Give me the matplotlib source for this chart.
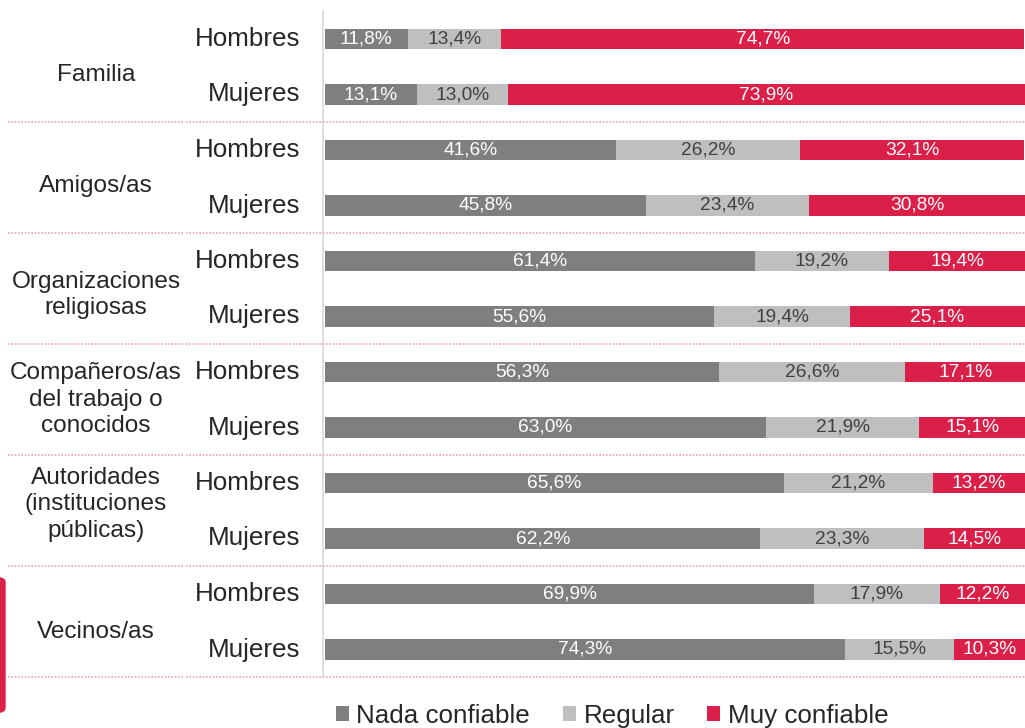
import matplotlib
matplotlib.use("Agg")
import matplotlib.pyplot as plt
from matplotlib.patches import Patch, FancyBboxPatch
from matplotlib.lines import Line2D
import matplotlib.transforms as mtransforms

plt.rcParams['font.family'] = ['Liberation Sans', 'DejaVu Sans']

groups = ["Familia", "Amigos/as", "Organizaciones\nreligiosas",
          "Compañeros/as\ndel trabajo o\nconocidos",
          "Autoridades\n(instituciones\npúblicas)", "Vecinos/as"]
sexes = ["Hombres", "Mujeres"]
series_names = ["Nada confiable", "Regular", "Muy confiable"]
nada = [11.8, 13.1, 41.6, 45.8, 61.4, 55.6, 56.3, 63.0, 65.6, 62.2, 69.9, 74.3]
regular = [13.4, 13.0, 26.2, 23.4, 19.2, 19.4, 26.6, 21.9, 21.2, 23.3, 17.9, 15.5]
muy = [74.7, 73.9, 32.1, 30.8, 19.4, 25.1, 17.1, 15.1, 13.2, 14.5, 12.2, 10.3]

colors = ["#7f7f7f", "#bfbfbf", "#da1f48"]
text_colors = ["white", "#404040", "white"]

W, H = 1025, 728
fig = plt.figure(figsize=(W / 100, H / 100), dpi=100)
ax_left = 325 / W
ax_top = 1 - 11.25 / H
ax_bot = 1 - 677.25 / H
ax = fig.add_axes([ax_left, ax_bot, 1 - ax_left, ax_top - ax_bot])

n = len(nada)
ypos = list(range(n))
left = [0.0] * n
for vals, col, tcol in zip([nada, regular, muy], colors, text_colors):
    bars = ax.barh(ypos, vals, left=left, height=0.37, color=col, edgecolor='none')
    labels = [f"{v:.1f}%".replace('.', ',') for v in vals]
    ax.bar_label(bars, labels=labels, label_type='center', color=tcol, fontsize=13.8)
    left = [l + v for l, v in zip(left, vals)]

ax.set_xlim(0, 100)
ax.set_ylim(n - 0.5, -0.5)
ax.set_xticks([])
ax.set_yticks([])
for s in ['top', 'right', 'bottom']:
    ax.spines[s].set_visible(False)
ax.spines['left'].set_color('#d9d9d9')
ax.spines['left'].set_linewidth(1.2)
ax.spines['left'].set_position(('outward', 1.5))

# sub labels (Hombres / Mujeres)
trans = mtransforms.blended_transform_factory(fig.transFigure, ax.transData)
for i in range(n):
    fig.text(300 / W, i, sexes[i % 2], transform=trans, ha='right', va='center',
             fontsize=18.7, color='#262626')

# group labels
group_offsets = [0.65, 0.65, 0.61, 0.50, 0.38, 0.68]
for g, (name, off) in enumerate(zip(groups, group_offsets)):
    fig.text(96 / W, 2 * g + off, name, transform=trans, ha='center', va='center',
             fontsize=17.6, color='#262626', linespacing=1.26)

# dotted separators
for g in range(len(groups)):
    yb = 2 * g + 1.5
    for x0, x1 in [(8, 183), (186, W)]:
        fig.add_artist(Line2D([x0 / W, x1 / W], [yb, yb], transform=trans,
                              color='#eaa6b5', linestyle=(0, (1, 1)), linewidth=1.2))

# left red decoration
fig.add_artist(FancyBboxPatch((-6 / W, 1 - 712 / H), 11 / W, 134 / H,
                              boxstyle="round,pad=0,rounding_size=0.006",
                              transform=fig.transFigure, color=colors[2], clip_on=False))

handles = [Patch(facecolor=c, edgecolor='none', label=l) for c, l in zip(colors, series_names)]
fig.legend(handles=handles, loc='center', bbox_to_anchor=(612 / W, 1 - 716 / H), ncol=3,
           frameon=False, fontsize=18.7, handlelength=0.5, handleheight=0.5,
           handletextpad=0.3, columnspacing=1.25, labelcolor='#262626')

fig.savefig("out.png", dpi=100)
